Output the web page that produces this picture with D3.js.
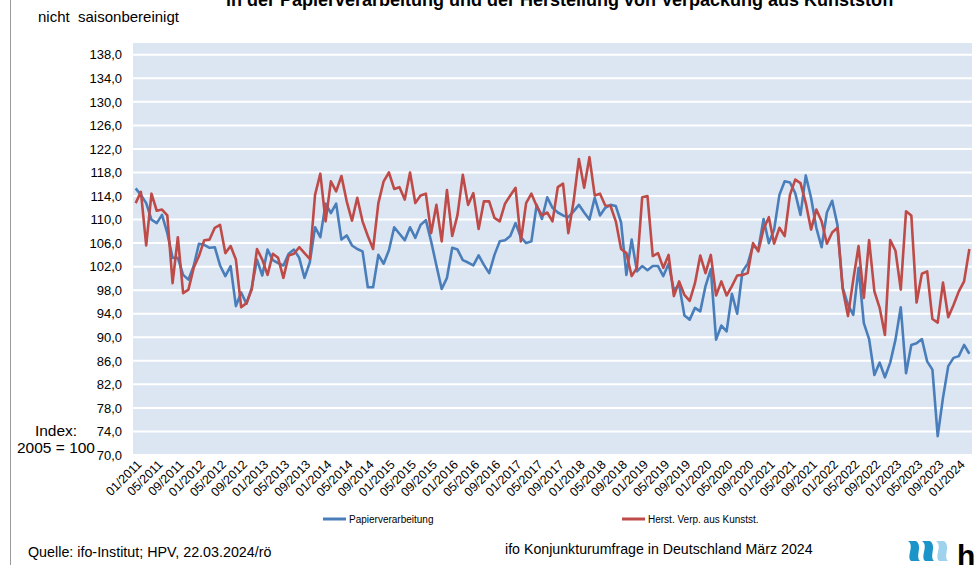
<!DOCTYPE html>
<html><head><meta charset="utf-8">
<script src="https://cdn.jsdelivr.net/npm/d3@7"></script>
<style>
html,body{margin:0;padding:0;background:#fff;overflow:hidden;}
text{font-family:Arial,"Liberation Sans",sans-serif;white-space:pre;}
</style></head>
<body>
<svg id="chart" width="977" height="565"></svg>
<script>
// ---- data ----
const startYear = 2011, endYear = 2024, endMonth = 3;
const papier = [115.3,114.2,112.8,110.0,109.4,110.8,107.7,103.5,103.5,100.6,99.8,102.1,
105.9,105.7,105.2,105.3,102.2,100.4,102.1,95.3,97.6,95.7,98.4,103.2,
100.5,104.9,103.1,102.6,102.2,104.2,104.9,103.5,100.1,102.7,108.7,107.0,
112.7,111.1,112.7,106.6,107.3,105.6,105.0,104.6,98.5,98.5,104.0,102.5,
104.8,108.7,107.6,106.5,108.7,106.9,109.1,109.9,106.3,102.2,98.2,100.1,
105.2,104.9,103.1,102.7,102.2,103.9,102.3,100.9,104.0,106.3,106.5,107.2,
109.4,107.0,106.0,106.3,112.5,110.1,113.8,112.0,111.2,110.7,110.4,111.4,
112.5,111.2,110.0,113.7,110.7,112.0,112.5,112.3,109.5,100.6,106.6,101.2,
102.1,101.4,102.1,102.1,100.4,102.5,98.0,98.9,93.7,93.0,95.0,94.4,
98.7,101.6,89.6,92.0,91.0,97.4,94.0,101.2,102.5,105.6,104.9,110.1,
106.0,108.3,114.2,116.5,116.3,114.5,110.8,117.5,113.7,108.6,105.3,111.2,
113.2,109.1,98.4,95.5,93.8,101.8,92.4,89.7,83.6,85.7,83.2,85.7,
89.6,95.1,83.9,88.7,89.0,89.7,85.9,84.5,73.2,79.7,85.1,86.5,
86.8,88.7,87.2];
const kunststoff = [112.8,114.7,105.6,114.4,111.5,111.7,110.7,99.2,107.0,97.5,98.1,101.8,
103.8,106.5,106.6,108.6,109.1,104.3,105.5,103.2,95.1,95.8,98.1,105.0,
103.2,100.6,104.2,103.5,100.1,103.9,104.2,105.3,104.3,103.3,114.2,117.8,
109.7,116.5,114.8,117.4,113.1,109.8,113.7,109.7,107.2,105.0,112.8,116.5,
118.0,115.2,115.5,113.4,118.0,112.8,114.1,114.4,107.7,112.5,106.3,115.0,
107.2,110.8,117.6,112.5,114.5,108.4,113.1,113.1,110.3,109.7,112.7,114.1,
115.4,106.3,112.8,114.4,112.3,110.7,111.2,109.7,115.5,116.1,107.7,113.1,
120.3,115.4,120.6,114.1,114.4,112.4,112.3,109.7,105.0,104.3,100.4,101.8,
113.8,114.0,103.8,104.3,101.8,104.0,97.0,99.5,97.2,96.2,99.2,103.9,
100.9,104.0,97.1,99.5,97.1,98.7,100.5,100.6,100.9,106.0,104.6,108.4,
110.4,105.9,108.6,107.2,114.2,116.8,116.2,112.8,108.3,111.7,109.7,105.9,
107.8,108.6,98.2,93.6,99.8,105.5,96.7,106.5,97.8,95.0,90.4,106.5,
104.7,98.1,111.4,110.7,95.9,100.8,101.2,93.1,92.5,99.3,93.4,95.5,
97.8,99.5,105.0];
const xTickLabels = ["01/2011","05/2011","09/2011","01/2012","05/2012","09/2012","01/2013","05/2013","09/2013",
"01/2014","05/2014","09/2014","01/2015","05/2015","09/2015","01/2016","05/2016","09/2016",
"01/2017","05/2017","09/2017","01/2018","05/2018","09/2018","01/2019","05/2019","09/2019",
"01/2020","05/2020","09/2020","01/2021","05/2021","09/2021","01/2022","05/2022","09/2022",
"01/2023","05/2023","09/2023","01/2024"];
const yTicks = [70,74,78,82,86,90,94,98,102,106,110,114,118,122,126,130,134,138];
const seriesNames = ["Papierverarbeitung","Herst. Verp. aus Kunstst."];
const seriesColors = ["#4a7ebb","#be4b48"];

// month categories
const months = [];
for (let y = startYear; y <= endYear; y++) {
  for (let m = 1; m <= 12; m++) {
    if (y === endYear && m > endMonth) break;
    months.push(String(m).padStart(2,"0") + "/" + y);
  }
}

const svg = d3.select("#chart");
const L = 133, R = 972, T = 43, B = 455;

const x = d3.scalePoint().domain(months).range([L, R]).padding(0.5);
const y = d3.scaleLinear().domain([70, 140]).range([B, T]);

// left border
svg.append("line").attr("x1",10.5).attr("x2",10.5).attr("y1",0).attr("y2",565)
  .attr("stroke","#9a9a9a").attr("stroke-width",1);

// title (clipped at top)
svg.append("text").attr("x",560).attr("y",6).attr("text-anchor","middle")
  .attr("font-size",18).attr("font-weight","bold").attr("fill","#000")
  .text("in der Papierverarbeitung und der Herstellung von Verpackung aus Kunststoff");
svg.append("text").attr("x",38).attr("y",22).attr("font-size",15).attr("fill","#000")
  .attr("xml:space","preserve").text("nicht  saisonbereinigt");

// plot area
svg.append("rect").attr("x",L).attr("y",T).attr("width",R-L).attr("height",B-T).attr("fill","#dce6f2");

// gridlines
svg.append("g").selectAll("line").data(yTicks).join("line")
  .attr("x1",L).attr("x2",R).attr("y1",d=>y(d)).attr("y2",d=>y(d))
  .attr("stroke","#fff").attr("stroke-width",2);

// y axis
const yAxis = d3.axisLeft(y).tickValues(yTicks).tickSize(0).tickPadding(0)
  .tickFormat(d => d3.format(".1f")(d).replace(".", ","));
const gy = svg.append("g").attr("transform",`translate(122,0)`).call(yAxis);
gy.select(".domain").remove();
gy.selectAll("text").attr("font-size",13).attr("fill","#000").attr("font-family","Arial, 'Liberation Sans', sans-serif");

// x axis
const xAxis = d3.axisBottom(x).tickValues(xTickLabels).tickSize(0).tickPadding(0);
const gx = svg.append("g").attr("transform",`translate(0,${B})`).call(xAxis);
gx.select(".domain").remove();
gx.selectAll("text").attr("font-size",12.5).attr("fill","#000")
  .attr("font-family","Arial, 'Liberation Sans', sans-serif")
  .attr("text-anchor","end").attr("dy","0.71em").attr("y",0)
  .attr("transform","translate(0,4) rotate(-45)");

// lines
const line = d3.line().x((d,i)=>x(months[i])).y(d=>y(d));
[papier, kunststoff].forEach((s,k)=>{
  svg.append("path").datum(s).attr("d",line).attr("fill","none")
    .attr("stroke",seriesColors[k]).attr("stroke-width",2.6).attr("stroke-linejoin","round");
});

// y axis caption
svg.append("text").attr("x",56).attr("y",436).attr("text-anchor","middle").attr("font-size",15.5).text("Index:");
svg.append("text").attr("x",56).attr("y",453).attr("text-anchor","middle").attr("font-size",15.5).text("2005 = 100");

// legend
const legX = [323, 622];
seriesNames.forEach((n,k)=>{
  svg.append("line").attr("x1",legX[k]).attr("x2",legX[k]+23).attr("y1",519).attr("y2",519)
    .attr("stroke",seriesColors[k]).attr("stroke-width",3);
  svg.append("text").attr("x",legX[k]+26).attr("y",522.5).attr("font-size",10).text(n);
});

// footer
svg.append("text").attr("x",28).attr("y",557).attr("font-size",14.3).text("Quelle: ifo-Institut; HPV, 22.03.2024/rö");
svg.append("text").attr("x",505).attr("y",554).attr("font-size",14.2).text("ifo Konjunkturumfrage in Deutschland März 2024");

// logo
const logoCols = ["#1b95c9","#1b95c9","#9fd2ec"];
logoCols.forEach((c,k)=>{
  const x0 = 908 + k*14;
  svg.append("path")
    .attr("d",`M${x0},541 L${x0+8},541 C${x0+15},546 ${x0+7},556 ${x0+12},561 L${x0+3},561 C${x0-2},556 ${x0+7},546 ${x0},541 Z`)
    .attr("fill",c);
});
svg.append("text").attr("x",957).attr("y",566).attr("font-size",30).attr("font-weight","bold").text("h");
</script>
</body></html>
